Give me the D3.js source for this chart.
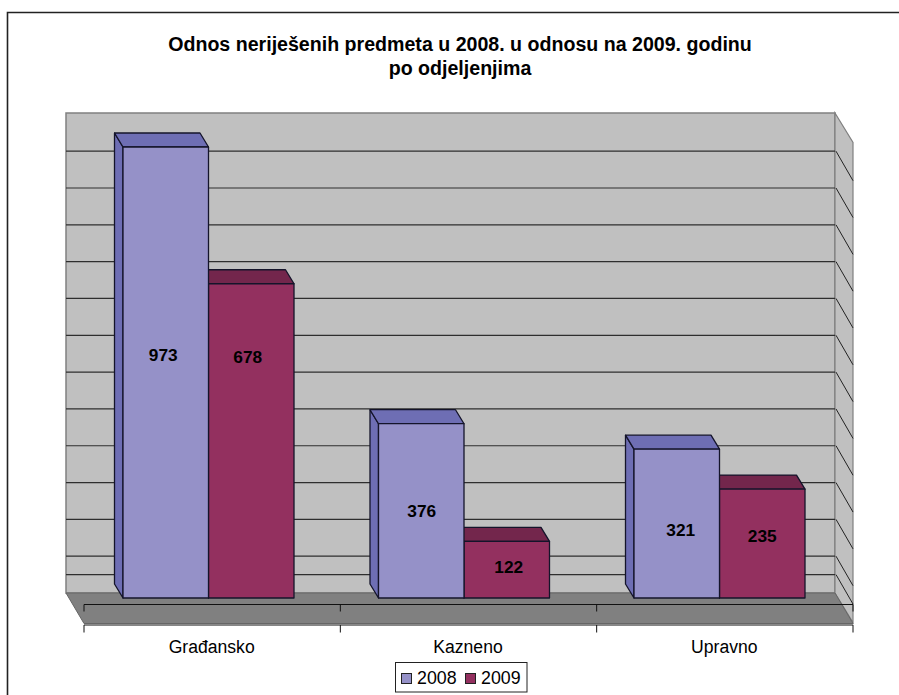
<!DOCTYPE html>
<html><head><meta charset="utf-8">
<script src="https://cdn.jsdelivr.net/npm/d3@7"></script>
<style>html,body{margin:0;padding:0;background:#fff}svg{display:block}text{font-family:"Liberation Sans",Arial,sans-serif;fill:#000}</style>
</head><body><svg id="c" width="899" height="695"></svg>
<script>
const categories = ["Građansko", "Kazneno", "Upravno"];
const seriesNames = ["2008", "2009"];
const values2008 = [973, 376, 321];
const values2009 = [678, 122, 235];
const gridTicks = [40, 80, 160, 240, 320, 400, 480, 560, 640, 720, 800, 880, 960];
const titleLines = ["Odnos neriješenih predmeta u 2008. u odnosu na 2009. godinu", "po odjeljenjima"];

const colors = {
  "2008": {front: "#9591c8", top: "#6e6eb4", side: "#6e6eb4"},
  "2009": {front: "#93305f", top: "#73264c", side: "#73264c"}
};
// hand-placed data labels in the original: offsets from each bar's centre
const labelShift = {
  "2008": [[-2.5, -17.5], [0.5, 0], [4, 6.5]],
  "2009": [[-3.5, -84], [2, -3], [0, -7.5]]
};

const svg = d3.select("#c");
const wall = {x0: 66, x1: 835, y0: 113, y1: 593};
const depth = {x: 18, y: 29.5};
const barDepth = {x: -8.5, y: -14};

const yWall = d3.scaleLinear().domain([0, 1043]).range([wall.y1, wall.y0]);
const yBar = d3.scaleLinear().domain([0, 973]).range([598, 147]);
const xCat = d3.scaleBand().domain(categories).range([80, 846.5]);
const xSer = d3.scaleBand().domain(seriesNames).range([43, 214]);
const xAxis = d3.scalePoint().domain(d3.range(categories.length + 1)).range([84, 853]);

const poly = pts => pts.map(p => p.join(",")).join(" ");

// frame
svg.append("path").attr("d", "M7.5,695V12.5H899").attr("fill", "none").attr("stroke", "#222").attr("stroke-width", 1.6);

// title
svg.append("g").selectAll("text").data(titleLines).join("text")
  .attr("x", 460).attr("y", (d, i) => 50.5 + i * 24)
  .attr("text-anchor", "middle").attr("font-weight", "bold").attr("font-size", 19.6).text(d => d);

// walls
svg.append("rect").attr("x", wall.x0).attr("y", wall.y0).attr("width", wall.x1 - wall.x0).attr("height", wall.y1 - wall.y0)
  .attr("fill", "#c0c0c0").attr("stroke", "#808080").attr("stroke-width", 1.5);
svg.append("polygon").attr("points", poly([[wall.x1, wall.y0], [wall.x1 + depth.x, wall.y0 + depth.y], [wall.x1 + depth.x, wall.y1 + depth.y], [wall.x1, wall.y1]]))
  .attr("fill", "#c0c0c0").attr("stroke", "#808080").attr("stroke-width", 1.2);

// gridlines
svg.append("g").selectAll("line").data(gridTicks).join("line")
  .attr("x1", wall.x0).attr("x2", wall.x1).attr("y1", d => yWall(d)).attr("y2", d => yWall(d))
  .attr("stroke", "#2e2e2e").attr("stroke-width", 1.2);
svg.append("g").selectAll("line").data(gridTicks).join("line")
  .attr("x1", wall.x1 + 1).attr("x2", wall.x1 + depth.x).attr("y1", d => yWall(d)).attr("y2", d => yWall(d) + depth.y)
  .attr("stroke", "#222").attr("stroke-width", 1);

// floor
svg.append("polygon").attr("points", poly([[wall.x0, wall.y1], [wall.x1, wall.y1], [wall.x1 + depth.x, wall.y1 + depth.y + 1], [wall.x0 + depth.x, wall.y1 + depth.y + 1]]))
  .attr("fill", "#808080").attr("stroke", "#666").attr("stroke-width", 1);

// category axes: back and front
[[604.5, 611.5], [625, 632.5]].forEach(([a, b]) => {
  const g = svg.append("g");
  g.append("line").attr("x1", 84).attr("x2", 853).attr("y1", a).attr("y2", a).attr("stroke", "#111").attr("stroke-width", 1.2);
  g.selectAll("line.t").data(xAxis.domain()).join("line").attr("class", "t")
    .attr("x1", d => xAxis(d)).attr("x2", d => xAxis(d)).attr("y1", a).attr("y2", b)
    .attr("stroke", "#111").attr("stroke-width", 1);
});
svg.append("g").selectAll("text").data(categories).join("text")
  .attr("x", (d, i) => (xAxis(i) + xAxis(i + 1)) / 2 - 0.5).attr("y", 653)
  .attr("text-anchor", "middle").attr("font-size", 17.6).text(d => d);

// bars: 2009 first so the 2008 front covers its hidden side
const rows = [];
[["2009", values2009], ["2008", values2008]].forEach(([s, vals]) => {
  vals.forEach((v, i) => rows.push({s, v, i, cat: categories[i]}));
});
rows.sort((a, b) => a.i - b.i);
const barG = svg.append("g").selectAll("g").data(rows).join("g");
barG.each(function(d) {
  const g = d3.select(this);
  const x0 = xCat(d.cat) + xSer(d.s), x1 = x0 + xSer.bandwidth();
  const yt = yBar(d.v), yb = yBar(0);
  const bx = barDepth.x, by = barDepth.y;
  const st = {stroke: "#14142a", "stroke-width": 1.3, "stroke-linejoin": "round"};
  const add = (pts, fill) => {
    const p = g.append("polygon").attr("points", poly(pts)).attr("fill", fill);
    Object.entries(st).forEach(([k, v]) => p.attr(k, v));
  };
  add([[x0, yt], [x0 + bx, yt + by], [x0 + bx, yb + by], [x0, yb]], colors[d.s].side);
  add([[x0, yt], [x0 + bx, yt + by], [x1 + bx, yt + by], [x1, yt]], colors[d.s].top);
  add([[x0, yt], [x1, yt], [x1, yb], [x0, yb]], colors[d.s].front);
});
// labels on top of all bars
svg.append("g").selectAll("text").data(rows).join("text")
  .attr("x", d => xCat(d.cat) + xSer(d.s) + xSer.bandwidth() / 2 + labelShift[d.s][d.i][0])
  .attr("y", d => (yBar(d.v) + yBar(0)) / 2 + labelShift[d.s][d.i][1])
  .attr("dy", "0.36em").attr("text-anchor", "middle").attr("font-weight", "bold").attr("font-size", 17.3)
  .text(d => d.v);

// legend
const legend = svg.append("g");
legend.append("rect").attr("x", 395.5).attr("y", 662.5).attr("width", 131.5).attr("height", 29.5)
  .attr("fill", "#fff").attr("stroke", "#222").attr("stroke-width", 1);
const lx = d3.scalePoint().domain(seriesNames).range([401, 465]);
const li = legend.selectAll("g").data(seriesNames).join("g");
li.append("rect").attr("x", d => lx(d) + 0.5).attr("y", 673.5).attr("width", 10).attr("height", 10)
  .attr("fill", d => colors[d].front).attr("stroke", "#222").attr("stroke-width", 1);
li.append("text").attr("x", d => lx(d) + 16).attr("y", 683.5).attr("font-size", 17.8).text(d => d);
</script></body></html>
